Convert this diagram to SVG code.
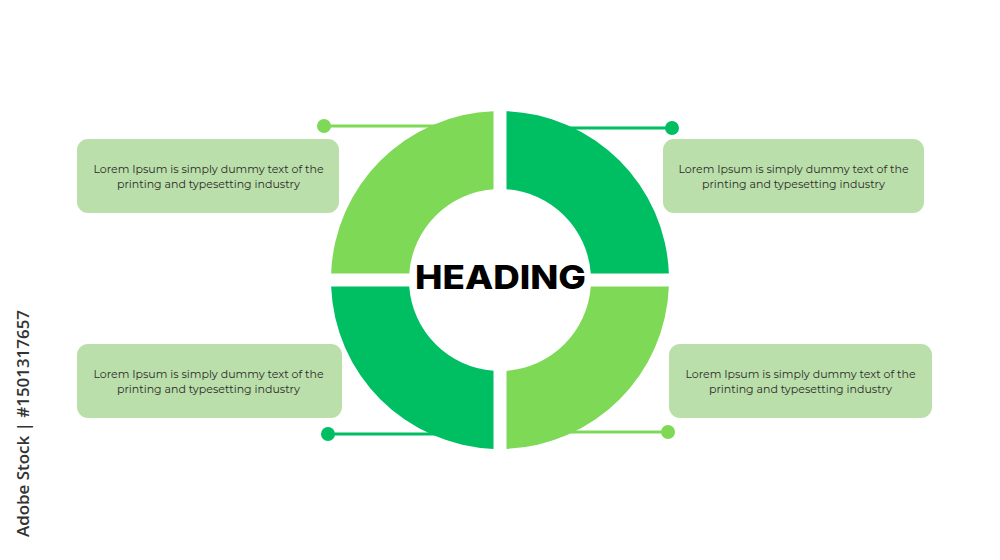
<svg xmlns="http://www.w3.org/2000/svg" width="1000" height="560" viewBox="0 0 1000 560">
  <style>
    .light { fill: #7ED957; }
    .dark { fill: #00BF63; }
    .ln-light { stroke: #7ED957; stroke-width: 3; fill: none; }
    .ln-dark { stroke: #00BF63; stroke-width: 3; fill: none; }
    .box { fill: #BBDFAA; }
    .txt { font-family: "Montserrat", "Open Sans", "Liberation Sans", sans-serif; font-size: 11px; fill: #2b2b2b; text-anchor: middle; }
    .head { font-family: "Inter", "Open Sans", "Liberation Sans", sans-serif; font-weight: 800; font-size: 32px; fill: #000; text-anchor: middle; }
    .side { font-family: "Open Sans", "Liberation Sans", sans-serif; font-weight: 600; font-size: 16px; fill: #333; }
  </style>
  <rect width="1000" height="560" fill="#ffffff"/>

  <g id="connectors">
    <line class="ln-light" x1="324" y1="126" x2="440" y2="126"/>
    <circle class="light" cx="324" cy="126" r="7"/>
    <line class="ln-dark" x1="560" y1="128" x2="672" y2="128"/>
    <circle class="dark" cx="672" cy="128" r="7"/>
    <line class="ln-dark" x1="328" y1="434" x2="440" y2="434"/>
    <circle class="dark" cx="328" cy="434" r="7"/>
    <line class="ln-light" x1="560" y1="432" x2="668" y2="432"/>
    <circle class="light" cx="668" cy="432" r="7"/>
  </g>

  <g id="ring">
    <path id="q-top-left" class="light" d="M493.5,111.125 A169,169 0 0 0 331.125,273.5 L409.232,273.5 A91,91 0 0 1 493.5,189.232 Z"/>
    <path id="q-top-right" class="dark" d="M506.5,111.125 A169,169 0 0 1 668.875,273.5 L590.768,273.5 A91,91 0 0 0 506.5,189.232 Z"/>
    <path id="q-bottom-right" class="light" d="M668.875,286.5 A169,169 0 0 1 506.5,448.875 L506.5,370.768 A91,91 0 0 0 590.768,286.5 Z"/>
    <path id="q-bottom-left" class="dark" d="M493.5,448.875 A169,169 0 0 1 331.125,286.5 L409.232,286.5 A91,91 0 0 0 493.5,370.768 Z"/>
  </g>

  <g id="heading">
    <text class="head" x="500.5" y="288.5" textLength="171" lengthAdjust="spacingAndGlyphs">HEADING</text>
  </g>

  <g id="box-top-left">
    <rect class="box" x="77" y="139" width="262" height="74" rx="11"/>
    <text class="txt" x="208.5" y="172.5">Lorem Ipsum is simply dummy text of the</text>
    <text class="txt" x="208.5" y="187.5">printing and typesetting industry</text>
  </g>
  <g id="box-top-right">
    <rect class="box" x="663" y="139" width="261" height="74" rx="11"/>
    <text class="txt" x="793.5" y="172.5">Lorem Ipsum is simply dummy text of the</text>
    <text class="txt" x="793.5" y="187.5">printing and typesetting industry</text>
  </g>
  <g id="box-bottom-left">
    <rect class="box" x="77" y="344" width="265" height="74" rx="11"/>
    <text class="txt" x="208.5" y="377.5">Lorem Ipsum is simply dummy text of the</text>
    <text class="txt" x="208.5" y="392.5">printing and typesetting industry</text>
  </g>
  <g id="box-bottom-right">
    <rect class="box" x="669" y="344" width="263" height="74" rx="11"/>
    <text class="txt" x="800.5" y="377.5">Lorem Ipsum is simply dummy text of the</text>
    <text class="txt" x="800.5" y="392.5">printing and typesetting industry</text>
  </g>

  <text class="side" transform="translate(29,537) rotate(-90)" textLength="227" lengthAdjust="spacingAndGlyphs">Adobe Stock | #1501317657</text>
</svg>
